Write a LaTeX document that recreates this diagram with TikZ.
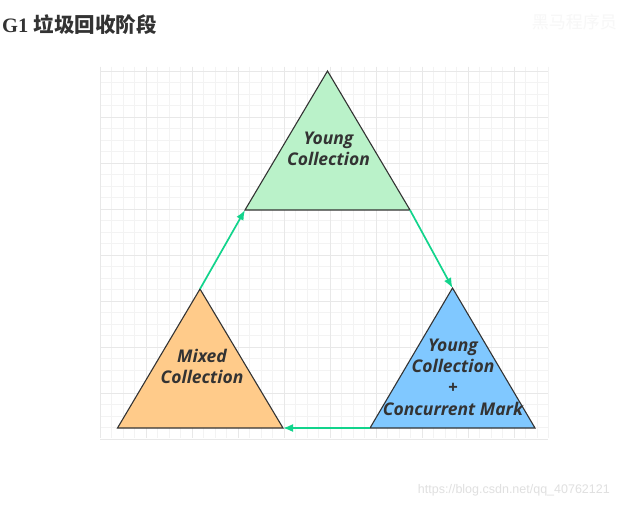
\documentclass[tikz,border=0pt]{standalone}
\usepackage{fontspec}
\setmainfont{Liberation Serif}
\newfontfamily\cjkfont{Noto Sans CJK SC}
\newfontfamily\lblfont{Open Sans}
\newfontfamily\urlfont{Liberation Sans}
\usetikzlibrary{arrows.meta}
\definecolor{gridminor}{HTML}{F3F3F3}
\definecolor{gridmajor}{HTML}{E8E8E8}
\definecolor{ygreen}{HTML}{BAF2C9}
\definecolor{morange}{HTML}{FFCB8A}
\definecolor{cblue}{HTML}{80C8FF}
\definecolor{arrowgreen}{HTML}{12D48C}
\definecolor{txt}{HTML}{333333}
\tikzset{
  tri/.style={draw=txt, line width=1.1pt, line join=miter},
  lbl/.style={font=\lblfont\bfseries\itshape\fontsize{17.5}{21.3}\selectfont, text=txt, align=center, inner sep=0pt},
  conn/.style={draw=arrowgreen, line width=1.7pt, -{Latex[length=10pt,width=8pt]}}
}
\begin{document}
\begin{tikzpicture}[x=1pt,y=-1pt]
\useasboundingbox[fill=white] (0,0) rectangle (617,508);
% grid
\foreach \i in {0,...,39} {\draw[gridminor,line width=0.5pt] (100+11.5*\i,67) -- (100+11.5*\i,438);}
\foreach \j in {0,...,32} {\draw[gridminor,line width=0.5pt] (100,71+11.5*\j) -- (548,71+11.5*\j);}
\foreach \i in {0,...,9} {\draw[gridmajor,line width=0.6pt] (100+46*\i,67) -- (100+46*\i,438);}
\foreach \j in {0,...,8} {\draw[gridmajor,line width=0.6pt] (100,71+46*\j) -- (548,71+46*\j);}
% title
\node[anchor=west, inner sep=0pt, text=txt] (title) at (2,25) {\fontsize{20.5}{24}\selectfont\bfseries G1 {\cjkfont\bfseries 垃圾回收阶段}};
\node[anchor=east, inner sep=0pt, text=black!3] (wm) at (617,22) {\cjkfont\fontsize{17}{20}\selectfont 黑马程序员};
% vertices
\coordinate (ta) at (327.5,71);
\coordinate (tl) at (245,210);
\coordinate (tr) at (410,210);
\coordinate (la) at (200,289);
\coordinate (ll) at (117.5,428);
\coordinate (lr) at (283,428);
\coordinate (ra) at (452.5,288);
\coordinate (rl) at (370,428);
\coordinate (rr) at (535,428);
% triangles
\filldraw[tri, fill=ygreen] (ta) -- (tr) -- (tl) -- cycle;
\filldraw[tri, fill=morange] (la) -- (lr) -- (ll) -- cycle;
\filldraw[tri, fill=cblue] (ra) -- (rr) -- (rl) -- cycle;
% labels
\node[lbl] (young) at (328.5,149) {Young\\Collection};
\node[lbl] (mixed) at (202,366.5) {Mixed\\Collection};
\node[lbl] (ycm) at (453,377) {Young\\Collection\\+\\Concurrent Mark};
% connectors
\draw[conn] (la) -- (tl);
\draw[conn] (tr) -- (ra);
\draw[conn] (rl) -- (lr);
% watermark
\node[anchor=east, inner sep=0pt, text=black!12] (url) at (610,490) {\urlfont\fontsize{12.5}{14}\selectfont https://blog.csdn.net/qq\_40762121};
\end{tikzpicture}
\end{document}
